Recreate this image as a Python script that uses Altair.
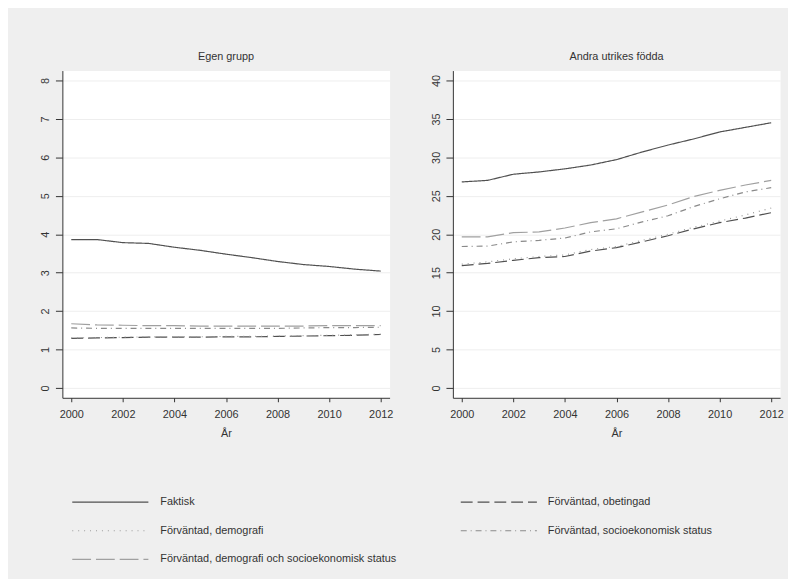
import altair as alt
import pandas as pd

years = list(range(2000, 2013))
series = [
    "Faktisk",
    "Förväntad, obetingad",
    "Förväntad, demografi",
    "Förväntad, socioekonomisk status",
    "Förväntad, demografi och socioekonomisk status",
]
colors = ["#505050", "#505050", "#9a9a9a", "#8a8a8a", "#a0a0a0"]
dashes = [[1, 0], [12, 5], [1, 5], [6, 4, 1, 4], [19, 5]]

# Egen grupp
egen_faktisk = [3.86, 3.86, 3.78, 3.76, 3.66, 3.58, 3.48, 3.39, 3.29, 3.21, 3.16, 3.09, 3.04]
egen_obet = [1.29, 1.30, 1.31, 1.32, 1.32, 1.32, 1.33, 1.33, 1.34, 1.35, 1.36, 1.37, 1.39]
egen_demo = [1.30, 1.31, 1.32, 1.33, 1.33, 1.33, 1.34, 1.34, 1.35, 1.36, 1.37, 1.38, 1.40]
egen_socio = [1.56, 1.55, 1.55, 1.55, 1.55, 1.55, 1.55, 1.55, 1.55, 1.56, 1.57, 1.57, 1.58]
egen_demosocio = [1.67, 1.64, 1.63, 1.62, 1.62, 1.61, 1.61, 1.61, 1.61, 1.61, 1.62, 1.62, 1.62]

# Andra utrikes födda
andra_faktisk = [26.8, 27.0, 27.8, 28.1, 28.5, 29.0, 29.7, 30.7, 31.6, 32.4, 33.3, 33.9, 34.5]
andra_obet = [15.9, 16.2, 16.6, 16.95, 17.1, 17.8, 18.25, 19.0, 19.8, 20.7, 21.5, 22.1, 22.8]
andra_demo = [16.1, 16.4, 16.8, 17.1, 17.3, 18.0, 18.4, 19.2, 20.0, 20.9, 21.7, 22.5, 23.4]
andra_socio = [18.4, 18.45, 19.0, 19.2, 19.5, 20.3, 20.7, 21.6, 22.4, 23.6, 24.6, 25.5, 26.05]
andra_demosocio = [19.65, 19.65, 20.2, 20.3, 20.8, 21.5, 22.0, 22.9, 23.8, 24.9, 25.7, 26.4, 27.0]


def frame(lists):
    rows = []
    for name, vals in zip(series, lists):
        for y, v in zip(years, vals):
            rows.append({"År": y, "Serie": name, "Värde": v})
    return pd.DataFrame(rows)


df_egen = frame([egen_faktisk, egen_obet, egen_demo, egen_socio, egen_demosocio])
df_andra = frame([andra_faktisk, andra_obet, andra_demo, andra_socio, andra_demosocio])

FONT = "Liberation Sans"
TEXT = "#333333"

color_enc = alt.Color("Serie:N", scale=alt.Scale(domain=series, range=colors), legend=None)
dash_enc = alt.StrokeDash("Serie:N", scale=alt.Scale(domain=series, range=dashes), legend=None)


def panel(df, title, ymax, ystep, ydom):
    return (
        alt.Chart(df)
        .mark_line(strokeWidth=1.2)
        .encode(
            x=alt.X(
                "År:Q",
                title="År",
                scale=alt.Scale(domain=[1999.655, 2012.345], nice=False, zero=False),
                axis=alt.Axis(values=list(range(2000, 2013, 2)), format="d", grid=False),
            ),
            y=alt.Y(
                "Värde:Q",
                title=None,
                scale=alt.Scale(domain=ydom, nice=False, zero=False),
                axis=alt.Axis(
                    values=list(range(0, ymax + 1, ystep)),
                    labelAngle=-90,
                    labelAlign="center",
                    labelBaseline="bottom",
                    grid=True,
                ),
            ),
            color=color_enc,
            strokeDash=dash_enc,
            order=alt.Order("År:Q"),
        )
        .properties(
            width=331,
            height=331,
            view=alt.ViewBackground(fill="white", strokeOpacity=0),
            title=alt.TitleParams(title, fontSize=11, fontWeight="normal", color=TEXT,
                                  anchor="middle", offset=9, font=FONT),
        )
    )


left = panel(df_egen, "Egen grupp", 8, 1, [-0.257, 8.257])
right = panel(df_andra, "Andra utrikes födda", 40, 5, [-1.29, 41.29])

# Legend (Stata style: two columns, row-wise order)
leg_df = pd.DataFrame({"Serie": series})
leg_df["idx"] = range(len(series))

legend_base = (
    alt.Chart(leg_df)
    .transform_calculate(
        row="floor(datum.idx / 2)",
        xs="10 + 393 * (datum.idx % 2)",
        xe="87 + 393 * (datum.idx % 2)",
        xt="99 + 392 * (datum.idx % 2)",
    )
)
ysc = alt.Scale(domain=[2.5, -0.5], nice=False, zero=False)
xsc = alt.Scale(domain=[0, 720], nice=False, zero=False)

leg_lines = legend_base.mark_rule(strokeWidth=1.2).encode(
    x=alt.X("xs:Q", scale=xsc, axis=None),
    x2="xe:Q",
    y=alt.Y("row:Q", scale=ysc, axis=None),
    color=color_enc,
    strokeDash=dash_enc,
)
leg_text = legend_base.mark_text(align="left", baseline="middle", font=FONT, fontSize=11,
                                 color=TEXT).encode(
    x=alt.X("xt:Q", scale=xsc, axis=None),
    y=alt.Y("row:Q", scale=ysc, axis=None),
    text="Serie:N",
)
legend = alt.layer(leg_lines, leg_text).properties(
    width=720, height=87, view=alt.ViewBackground(fillOpacity=0, strokeOpacity=0)
)

chart = (
    alt.vconcat(alt.hconcat(left, right, spacing=36), legend, spacing=50)
    .properties(padding={"left": 31, "top": 40, "right": 4, "bottom": 2}, background="#efefef")
    .configure_axis(
        labelFont=FONT,
        titleFont=FONT,
        labelFontSize=11,
        titleFontSize=11,
        titleFontWeight="normal",
        labelColor=TEXT,
        titleColor=TEXT,
        domainColor="#333333",
        tickColor="#333333",
        gridColor="#eeeeee",
    )
    .configure_axisX(tickSize=4, labelPadding=7, titlePadding=8)
    .configure_axisY(tickSize=7, labelPadding=5)
)

chart.save("out.html", embed_options={"renderer": "svg", "actions": False})
